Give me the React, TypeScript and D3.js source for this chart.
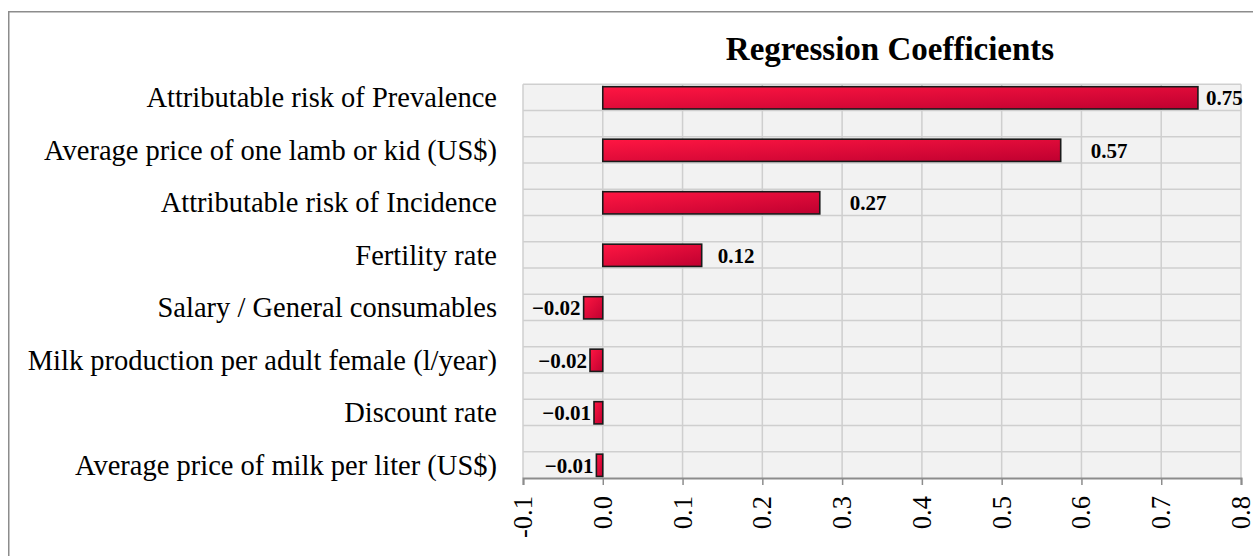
import React, { useEffect, useRef } from 'react';
import * as d3 from 'd3';

const categories = [
  'Attributable risk of Prevalence',
  'Average price of one lamb or kid (US$)',
  'Attributable risk of Incidence',
  'Fertility rate',
  'Salary / General consumables',
  'Milk production per adult female (l/year)',
  'Discount rate',
  'Average price of milk per liter (US$)',
];
const coefficients = [0.746, 0.574, 0.272, 0.124, -0.024, -0.016, -0.011, -0.008];
const xTicks = [-0.1, 0, 0.1, 0.2, 0.3, 0.4, 0.5, 0.6, 0.7, 0.8];
const chartTitle = 'Regression Coefficients';

const W = 1253;
const H = 556;
const serif = '"Liberation Serif", "Times New Roman", serif';

const App = () => {
  const ref = useRef<SVGSVGElement>(null);

  useEffect(() => {
    const svg = d3.select(ref.current);
    svg.selectAll('*').remove();

    const left = 523, right = 1241, top = 84.3, bottom = 478;

    const x = d3.scaleLinear().domain([-0.1, 0.8]).range([left, right]);
    // 15 grid rows, each category takes two of them (bar sits in the upper one)
    const rows = d3.scaleLinear().domain([0, 15]).range([top, bottom]);
    const y = d3.scaleBand<string>().domain(categories).range([top, rows(16)]).paddingInner(0);
    const rowH = rows(1) - rows(0);

    // gradient for bars
    const defs = svg.append('defs');
    const grad = defs.append('linearGradient')
      .attr('id', 'barGrad')
      .attr('x1', 0).attr('y1', 0).attr('x2', 1).attr('y2', 1);
    grad.append('stop').attr('offset', '0%').attr('stop-color', '#ff1642');
    grad.append('stop').attr('offset', '100%').attr('stop-color', '#bf0030');

    // outer frame (cropped at right/bottom)
    svg.append('rect')
      .attr('x', 8.75).attr('y', 11.75)
      .attr('width', 1400).attr('height', 700)
      .attr('fill', 'none')
      .attr('stroke', '#8c8c8c')
      .attr('stroke-width', 1.5);

    // title
    svg.append('text')
      .attr('x', 890).attr('y', 60)
      .attr('text-anchor', 'middle')
      .attr('font-family', serif)
      .attr('font-weight', 'bold')
      .attr('font-size', 33)
      .text(chartTitle);

    // plot background
    svg.append('rect')
      .attr('x', left).attr('y', top)
      .attr('width', right - left).attr('height', bottom - top)
      .attr('fill', '#f2f2f2');

    // horizontal grid
    svg.append('g')
      .selectAll('line')
      .data(d3.range(0, 15))
      .enter().append('line')
      .attr('x1', left).attr('x2', right)
      .attr('y1', d => rows(d)).attr('y2', d => rows(d))
      .attr('stroke', '#cfcfcf').attr('stroke-width', 1.5);

    // vertical grid
    svg.append('g')
      .selectAll('line')
      .data(xTicks)
      .enter().append('line')
      .attr('x1', d => x(d)).attr('x2', d => x(d))
      .attr('y1', top).attr('y2', bottom)
      .attr('stroke', '#cfcfcf').attr('stroke-width', 1.5);

    // x axis
    const xAxis = svg.append('g')
      .attr('transform', `translate(0,${bottom})`)
      .call(d3.axisBottom(x).tickValues(xTicks).tickSize(7).tickFormat(() => ''));
    xAxis.select('.domain').attr('stroke', '#8c8c8c').attr('stroke-width', 2);
    xAxis.selectAll('.tick line').attr('stroke', '#8c8c8c').attr('stroke-width', 1.5);

    svg.append('g')
      .selectAll('text')
      .data(xTicks)
      .enter().append('text')
      .attr('transform', d => `translate(${x(d)},496) rotate(-90)`)
      .attr('text-anchor', 'end')
      .attr('dy', '0.34em')
      .attr('font-family', serif)
      .attr('font-size', 26.5)
      .attr('fill', '#000')
      .text(d => d3.format('.1f')(d).replace('−', '-'));

    // category labels
    svg.append('g')
      .selectAll('text')
      .data(categories)
      .enter().append('text')
      .attr('x', 497)
      .attr('y', d => (y(d) as number) + rowH / 2 + 0.5)
      .attr('dy', '0.33em')
      .attr('text-anchor', 'end')
      .attr('font-family', serif)
      .attr('font-size', 28.5)
      .attr('fill', '#000')
      .text(d => d);

    const data = categories.map((c, i) => ({ c, v: coefficients[i] }));

    // bars
    svg.append('g')
      .selectAll('rect')
      .data(data)
      .enter().append('rect')
      .attr('x', d => x(Math.min(0, d.v)))
      .attr('y', d => (y(d.c) as number) + 2.4)
      .attr('width', d => Math.abs(x(d.v) - x(0)))
      .attr('height', rowH - 4)
      .attr('fill', 'url(#barGrad)')
      .attr('stroke', '#1a1a1a')
      .attr('stroke-width', 1.6);

    // value labels (nudged like the original)
    const labelGap = [8, 30, 30, 16, 3, 3, 3, 3];
    svg.append('g')
      .selectAll('text')
      .data(data)
      .enter().append('text')
      .attr('x', (d, i) => d.v >= 0 ? x(d.v) + labelGap[i] : x(d.v) - labelGap[i])
      .attr('y', d => (y(d.c) as number) + rowH / 2 + 0.5)
      .attr('dy', '0.35em')
      .attr('text-anchor', d => d.v >= 0 ? 'start' : 'end')
      .attr('font-family', serif)
      .attr('font-weight', 'bold')
      .attr('font-size', 21)
      .attr('fill', '#000')
      .text(d => d3.format('.2f')(d.v));
  }, []);

  return (
    <svg
      ref={ref}
      width={W}
      height={H}
      style={{ position: 'absolute', left: 0, top: 0, background: '#fff' }}
    />
  );
};

export default App;
